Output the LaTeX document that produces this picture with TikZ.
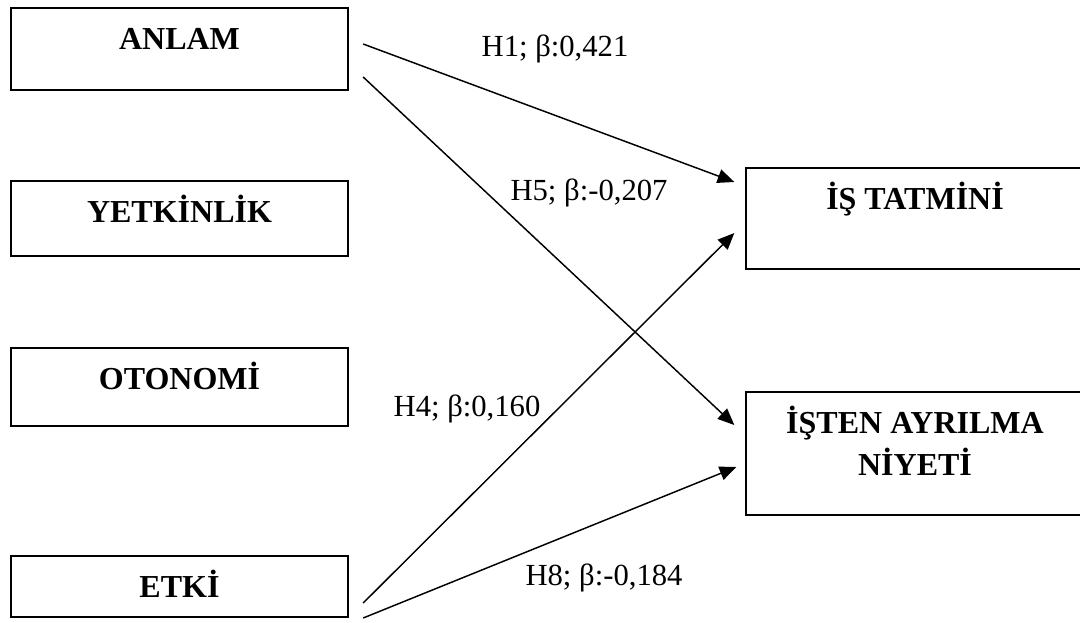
\documentclass[tikz,border=0pt]{standalone}
\usepackage{fontspec}
\setmainfont{Liberation Serif}
\usetikzlibrary{arrows.meta, calc}
\tikzset{
  every picture/.style={x=0.75pt, y=-0.75pt},
  box/.style={draw=black, line width=1.5pt, anchor=north, minimum width=253pt, inner xsep=4pt, inner ysep=0pt, outer sep=0pt, align=center, text height=31pt, text depth=#1, font=\fontsize{24}{31.5}\selectfont\bfseries},
  box/.default=30pt,
  arrow/.style={-{Triangle[length=12.5pt, width=10.5pt]}, line width=1.1pt},
  beta/.style={font=\fontsize{23}{28}\selectfont, anchor=base, inner sep=0pt},
}
\begin{document}
\begin{tikzpicture}
  \clip (0,0) rectangle (1080,622);
  % ---- inputs ----
  \node[box=30.75pt] (anlam) at (179.5,8) {ANLAM};
  \node[box=25.5pt] (yetkin) at (179.5,181) {YETKİNLİK};
  \node[box=27.75pt] (otonomi) at (179.5,348) {OTONOMİ};
  \node[box=15pt] (etki) at (179.5,556) {ETKİ};
  % ---- outcomes ----
  \node[box=45pt] (tatmin) at (915,168) {İŞ TATMİNİ};
  \node[box=30pt, text height=62.5pt] (ayrilma) at (915,392) {İŞTEN AYRILMA\\NİYETİ};
  % ---- paths ----
  \coordinate (s1) at ($(anlam.north east)+(15,36)$);
  \coordinate (s5) at ($(anlam.north east)+(15,69)$);
  \coordinate (s4) at ($(etki.north east)+(15,47)$);
  \coordinate (s8) at ($(etki.north east)+(15,62)$);
  \coordinate (t1) at ($(tatmin.north west)+(-12,14)$);
  \coordinate (t4) at ($(tatmin.north west)+(-12,65)$);
  \coordinate (t5) at ($(ayrilma.north west)+(-12,33)$);
  \coordinate (t8) at ($(ayrilma.north west)+(-10,75)$);
  \draw[arrow] (s1) -- (t1);
  \draw[arrow] (s5) -- (t5);
  \draw[arrow] (s4) -- (t4);
  \draw[arrow] (s8) -- (t8);
  \node[beta] (h1) at (555,56) {H1; β:0,421};
  \node[beta] (h5) at (589,200) {H5; β:-0,207};
  \node[beta] (h4) at (467,416) {H4; β:0,160};
  \node[beta] (h8) at (604,585) {H8; β:-0,184};
\end{tikzpicture}
\end{document}
